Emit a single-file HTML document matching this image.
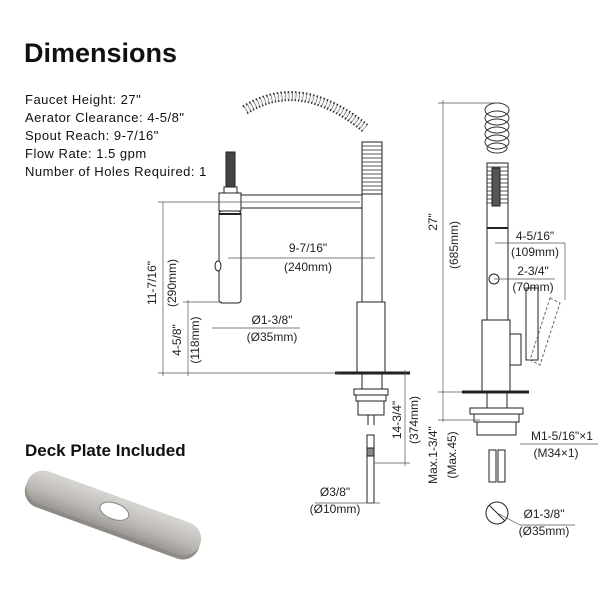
<!DOCTYPE html>
<html><head><meta charset="utf-8"><style>
html,body{margin:0;padding:0;background:#fff;}
svg{display:block;font-family:"Liberation Sans",sans-serif;}
</style></head><body>
<svg width="600" height="600" viewBox="0 0 600 600" xmlns="http://www.w3.org/2000/svg">
<defs>
<linearGradient id="pl" x1="0" y1="0" x2="0" y2="1">
<stop offset="0" stop-color="#d8d6d3"/><stop offset="0.6" stop-color="#bcb9b5"/><stop offset="1" stop-color="#9a9793"/>
</linearGradient>
</defs>
<text x="24" y="62" font-size="27" font-weight="bold" fill="#111">Dimensions</text>
<g font-size="13" fill="#111" letter-spacing="0.5">
<text x="25" y="104">Faucet Height:  27"</text>
<text x="25" y="122">Aerator Clearance:  4-5/8"</text>
<text x="25" y="140">Spout Reach:  9-7/16"</text>
<text x="25" y="158">Flow Rate:  1.5 gpm</text>
<text x="25" y="176">Number of Holes Required:  1</text>
</g>
<text x="25" y="456" font-size="17" font-weight="bold" fill="#111">Deck Plate Included</text>
<!-- deck plate -->
<g transform="translate(113,515) rotate(20)">
<rect x="-92" y="-15" width="184" height="34" rx="17" fill="#8e8b87"/>
<rect x="-92" y="-19" width="184" height="34" rx="17" fill="url(#pl)"/>
<ellipse cx="0" cy="-4" rx="15" ry="8" fill="#fff" stroke="#888" stroke-width="1"/>
</g>

<g stroke="#222" fill="none" stroke-width="1">
<path d="M245,110 Q300,75 365,128" stroke-width="10" stroke="#333" stroke-dasharray="1.5 2"/>
<path d="M245,110 Q300,75 365,128" stroke-width="6" stroke="#fff" stroke-dasharray="1 2.5"/>
<rect x="226" y="152" width="9" height="35" fill="#444"/>
<rect x="224" y="187" width="13" height="6" fill="#fff"/>
<rect x="219" y="193" width="22" height="18" fill="#fff"/>
<rect x="219" y="211" width="22" height="92" rx="3" fill="#fff"/>
<line x1="219" y1="214" x2="241" y2="214" stroke-width="2"/>
<ellipse cx="218" cy="266" rx="3" ry="5" fill="#fff"/>
<rect x="241" y="195" width="122" height="13" fill="#fff"/>
<rect x="362" y="142" width="20" height="52" fill="#fff"/>
<g stroke-width="0.8"><path d="M362,146H382M362,150H382M362,154H382M362,158H382M362,162H382M362,166H382M362,170H382M362,174H382M362,178H382M362,182H382M362,186H382M362,190H382"/></g>
<rect x="362" y="194" width="20" height="108" fill="#fff"/>
<rect x="357" y="302" width="28" height="71" fill="#fff"/>
<line x1="335" y1="373" x2="410" y2="373" stroke-width="3"/>
<rect x="362" y="374" width="20" height="16"/>
<rect x="354" y="389" width="34" height="6" fill="#fff"/>
<rect x="356" y="395" width="30" height="6" fill="#fff"/>
<rect x="358" y="401" width="26" height="14" fill="#fff"/>
<line x1="368" y1="415" x2="368" y2="425"/><line x1="374" y1="415" x2="374" y2="425"/>
<rect x="367" y="435" width="7" height="68" fill="#fff"/>
<rect x="367" y="448" width="7" height="8" fill="#888"/>
<g stroke-width="0.7" stroke="#555">
<line x1="163" y1="202" x2="163" y2="376"/>
<line x1="158" y1="202" x2="360" y2="202"/>
<line x1="158" y1="373" x2="340" y2="373"/>
<line x1="188" y1="300" x2="188" y2="376"/>
<line x1="183" y1="302" x2="222" y2="302"/>
<line x1="228" y1="258" x2="375" y2="258"/>
<line x1="212" y1="328" x2="300" y2="328"/>
<line x1="405" y1="370" x2="405" y2="466"/>
<line x1="374" y1="463" x2="410" y2="463"/>
<line x1="315" y1="503" x2="380" y2="503"/>
</g>
<g stroke="#333">
<ellipse cx="497" cy="110" rx="12" ry="7"/><ellipse cx="497" cy="118" rx="12" ry="7"/><ellipse cx="497" cy="126" rx="12" ry="7"/><ellipse cx="497" cy="134" rx="12" ry="7"/><ellipse cx="497" cy="142" rx="12" ry="7"/><ellipse cx="497" cy="148" rx="10" ry="5"/>
</g>
<rect x="487" y="163" width="21" height="157" fill="#fff"/>
<g stroke-width="0.8"><path d="M487,167H508M487,171H508M487,175H508M487,179H508M487,183H508M487,187H508M487,191H508M487,195H508M487,199H508M487,203H508"/></g>
<rect x="492" y="168" width="8" height="38" fill="#555"/>
<line x1="487" y1="228" x2="508" y2="228" stroke-width="2"/>
<circle cx="494" cy="279" r="5"/>
<rect x="482" y="320" width="28" height="72" fill="#fff"/>
<path d="M510,334H521V365H510"/>
<rect x="526" y="288" width="12" height="72" fill="#fff"/>
<path d="M550,298L560,303L540,365L530,360Z" stroke-dasharray="3 2" stroke="#666"/>
<line x1="462" y1="392" x2="529" y2="392" stroke-width="3"/>
<rect x="487" y="393" width="20" height="15"/>
<rect x="470" y="408" width="53" height="6" fill="#fff"/>
<rect x="474" y="414" width="45" height="8" fill="#fff"/>
<rect x="477" y="422" width="39" height="13" fill="#fff"/>
<rect x="489" y="450" width="7" height="32" fill="#fff"/><rect x="498" y="450" width="7" height="32" fill="#fff"/>
<circle cx="497" cy="513" r="11"/>
<line x1="489" y1="505" x2="505" y2="521"/>
<g stroke-width="0.7" stroke="#555">
<line x1="443" y1="100" x2="443" y2="422"/>
<line x1="438" y1="103" x2="500" y2="103"/>
<line x1="438" y1="392" x2="462" y2="392"/>
<line x1="438" y1="420" x2="480" y2="420"/>
<line x1="495" y1="243" x2="565" y2="243"/>
<line x1="565" y1="243" x2="565" y2="300"/>
<line x1="494" y1="279" x2="555" y2="279"/>
<line x1="520" y1="444" x2="598" y2="444"/>
<line x1="497" y1="513" x2="520" y2="525"/><line x1="520" y1="525" x2="575" y2="525"/>
</g>
</g>
<g font-size="12" fill="#222" text-anchor="middle">
<text x="308" y="252">9-7/16"</text>
<text x="308" y="271">(240mm)</text>
<text x="272" y="324">Ø1-3/8"</text>
<text x="272" y="341">(Ø35mm)</text>
<text transform="translate(156,283) rotate(-90)">11-7/16"</text>
<text transform="translate(176,283) rotate(-90)">(290mm)</text>
<text transform="translate(181,340) rotate(-90)">4-5/8"</text>
<text transform="translate(199,340) rotate(-90)">(118mm)</text>
<text transform="translate(401,420) rotate(-90)">14-3/4"</text>
<text transform="translate(418,420) rotate(-90)">(374mm)</text>
<text x="335" y="496">Ø3/8"</text>
<text x="335" y="513">(Ø10mm)</text>
<text transform="translate(437,222) rotate(-90)">27"</text>
<text transform="translate(458,245) rotate(-90)">(685mm)</text>
<text transform="translate(437,455) rotate(-90)">Max.1-3/4"</text>
<text transform="translate(456,455) rotate(-90)">(Max.45)</text>
<text x="535" y="240">4-5/16"</text>
<text x="535" y="256">(109mm)</text>
<text x="533" y="275">2-3/4"</text>
<text x="533" y="291">(70mm)</text>
<text x="562" y="440">M1-5/16"×1</text>
<text x="556" y="457">(M34×1)</text>
<text x="544" y="518">Ø1-3/8"</text>
<text x="544" y="535">(Ø35mm)</text>
</g>
</svg>
</body></html>
